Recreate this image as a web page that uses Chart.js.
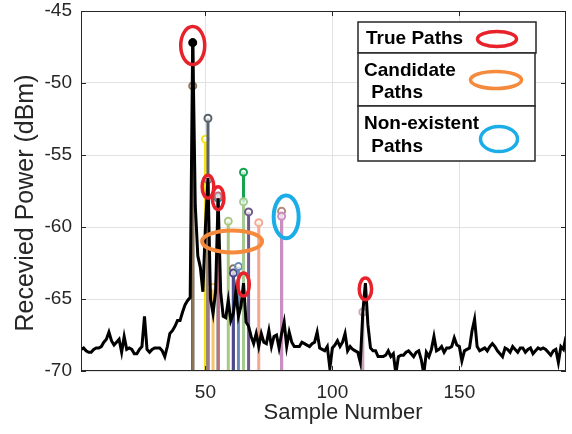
<!DOCTYPE html>
<html>
<head>
<meta charset="utf-8">
<script src="https://cdn.jsdelivr.net/npm/chart.js@4.4.0/dist/chart.umd.min.js"></script>
<style>
    html, body { margin: 0; padding: 0; background: #ffffff; }
    #wrap { width: 572px; height: 434px; }
</style>
</head>
<body>
<div id="wrap"><canvas id="pathChart" width="572" height="434"></canvas></div>
<script>
// Received power per sample (dBm), samples 1..192
const power = [
    -68.5, -68.4, -68.6, -68.7, -68.7, -68.5, -68.4, -68.4, -68.3, -68.0,
    -67.8, -67.3, -67.9, -68.2, -68.0, -67.8, -68.7, -67.6, -68.5, -68.4,
    -68.5, -68.8, -68.8, -68.5, -68.3, -66.2, -68.5, -68.7, -68.5, -68.4,
    -68.4, -68.4, -68.6, -69.0, -68.3, -67.4, -67.2, -66.9, -66.5, -66.5,
    -65.9, -65.4, -65.1, -64.9, -46.9, -58.5, -62.0, -62.8, -64.5, -60.0,
    -56.6, -65.0, -66.0, -64.5, -58.0, -64.5, -66.2, -66.3, -65.1, -66.5,
    -66.0, -64.5, -66.2, -65.5, -63.9, -66.6, -66.9, -67.6, -68.1, -67.4,
    -68.3, -67.4, -68.0, -68.1, -67.2, -68.3, -67.6, -67.5, -68.4, -67.4,
    -66.6, -68.3, -67.3, -68.0, -68.3, -68.3, -68.3, -68.0, -68.1, -68.2,
    -68.3, -68.1, -68.0, -67.3, -68.4, -68.5, -68.6, -68.3, -69.8, -68.4,
    -68.2, -67.9, -68.3, -68.0, -67.4, -68.6, -68.3, -68.5, -68.6, -68.7,
    -69.4, -65.9, -63.9, -66.8, -68.4, -68.6, -68.6, -69.0, -69.0, -69.0,
    -68.9, -68.6, -69.0, -68.8, -70.2, -69.0, -68.9, -68.9, -68.7, -68.6,
    -68.8, -69.0, -68.7, -68.6, -69.2, -70.2, -68.7, -69.0, -68.5, -67.6,
    -68.6, -68.5, -68.3, -68.7, -68.4, -68.4, -68.3, -67.7, -68.2, -68.3,
    -69.3, -68.6, -68.5, -68.4, -67.2, -66.4, -68.3, -68.6, -68.5, -68.4,
    -68.6, -68.3, -68.1, -68.3, -68.6, -68.8, -69.0, -68.4, -68.5, -68.7,
    -68.3, -68.5, -68.7, -68.4, -68.4, -68.7, -68.5, -68.4, -68.8, -68.6,
    -68.4, -68.5, -68.4, -68.5, -68.7, -68.9, -68.6, -68.5, -69.4, -68.3,
    -68.5, -67.6
];
const samples = power.map((_, i) => i + 1);

// Stem plot: detected path delays (sample) and powers (dBm)
const stemSamples = [45, 45, 50, 51, 51, 53, 55, 55, 59, 61, 61, 63, 65, 65, 67, 71, 80, 80, 112];
const stemValues = [-47.2, -50.2, -53.9, -52.45, -56.7, -64.2, -58.0, -57.85, -59.6, -62.9, -63.2, -62.75, -56.2, -58.25, -58.95, -59.7, -58.9, -59.25, -65.9];
const stemColors = ['#000000', '#8e7558', '#f3e21a', '#56626d', '#9a7a8e', '#f6c26b', '#1798a6', '#be6e7c', '#a9c983',
    '#8a7562', '#4a4b8e', '#6a8db8', '#13a452', '#a4cb94', '#6e5a8a', '#f5a78f', '#b48b7c', '#c98fc2', '#c9a6b7'];

// Ellipse annotations, centred in data units (sample, dBm)
const truePaths = [[45, -47.4], [51, -57.2], [55, -58.0], [65, -64.0], [113, -64.3]];
const candidatePaths = [[60.5, -61.0]];
const ghostPaths = [[81.8, -59.3]];

const xTicks = [50, 100, 150];
const yTicks = [-70, -65, -60, -55, -50, -45];
const X_MIN = 1, X_MAX = 192, Y_MIN = -70, Y_MAX = -45;

const FONT = "'Liberation Sans', Arial, Helvetica, sans-serif";
const AXIS_COLOR = '#262626';
const RED = '#e8222b', ORANGE = '#f58a3c', BLUE = '#1aade8';

const stemDatasets = stemSamples.map((s, i) => ({
    type: 'line',
    data: [{ x: s, y: Y_MIN }, { x: s, y: stemValues[i] }],
    borderColor: stemColors[i],
    borderWidth: 3,
    pointRadius: ctx => ctx.dataIndex === 1 ? 3.5 : 0,
    pointBorderWidth: 2,
    pointBorderColor: stemColors[i],
    pointBackgroundColor: i === 0 ? '#000000' : 'rgba(255,255,255,0.7)',
    order: stemSamples.length - i
}));

// axes box + inward tick marks + axis labels
const framePlugin = {
    id: 'frame',
    afterDatasetsDraw(chart) {
        const { ctx, chartArea: a, scales: { x, y } } = chart;
        ctx.save();
        ctx.strokeStyle = AXIS_COLOR;
        ctx.lineWidth = 1;
        ctx.strokeRect(a.left + 0.5, a.top + 0.5, a.right - a.left - 1, a.bottom - a.top - 1);
        ctx.beginPath();
        xTicks.forEach(v => {
            const px = Math.round(x.getPixelForValue(v)) + 0.5;
            ctx.moveTo(px, a.bottom); ctx.lineTo(px, a.bottom - 5);
            ctx.moveTo(px, a.top); ctx.lineTo(px, a.top + 5);
        });
        yTicks.forEach(v => {
            const py = Math.round(y.getPixelForValue(v)) + 0.5;
            ctx.moveTo(a.left, py); ctx.lineTo(a.left + 5, py);
            ctx.moveTo(a.right, py); ctx.lineTo(a.right - 5, py);
        });
        ctx.stroke();

        // axis titles (placed as in the original figure, slightly off-centre)
        ctx.fillStyle = AXIS_COLOR;
        ctx.textAlign = 'center';
        ctx.textBaseline = 'middle';
        ctx.font = '22px ' + FONT;
        ctx.fillText('Sample Number', 343, 413);
        ctx.translate(26, 203);
        ctx.rotate(-Math.PI / 2);
        ctx.font = '25px ' + FONT;
        ctx.fillText('Recevied Power (dBm)', 0, 0);
        ctx.restore();
    }
};

// hand-drawn ellipses around path groups
const ellipsePlugin = {
    id: 'ellipses',
    afterDraw(chart) {
        const { ctx, scales: { x, y } } = chart;
        const draw = (pts, rx, ry, color, lw) => {
            pts.forEach(p => {
                ctx.beginPath();
                ctx.ellipse(x.getPixelForValue(p[0]), y.getPixelForValue(p[1]), rx, ry, 0, 0, Math.PI * 2);
                ctx.strokeStyle = color;
                ctx.lineWidth = lw;
                ctx.stroke();
            });
        };
        ctx.save();
        draw(truePaths.slice(0, 1), 12, 19, RED, 3.5);
        draw(truePaths.slice(1, 4), 5.8, 11.5, RED, 3.5);
        draw(truePaths.slice(4), 6.2, 10.8, RED, 3.5);
        draw(candidatePaths, 30, 11, ORANGE, 4);
        draw(ghostPaths, 12.5, 21.3, BLUE, 4);
        ctx.restore();
    }
};

// boxed legend, top right
const legendPlugin = {
    id: 'pathLegend',
    afterDraw(chart) {
        const ctx = chart.ctx;
        ctx.save();
        ctx.fillStyle = '#ffffff';
        ctx.strokeStyle = '#262626';
        ctx.lineWidth = 1.5;
        [[358, 22, 178, 31], [358, 53, 177, 53], [358, 106, 177, 55]].forEach(b => {
            ctx.fillRect(b[0], b[1], b[2], b[3]);
            ctx.strokeRect(b[0], b[1], b[2], b[3]);
        });
        ctx.fillStyle = '#000000';
        ctx.font = 'bold 19px ' + FONT;
        ctx.textBaseline = 'alphabetic';
        ctx.fillText('True Paths', 366, 44);
        ctx.fillText('Candidate', 364, 76);
        ctx.fillText(' Paths', 366, 98);
        ctx.fillText('Non-existent', 364, 129);
        ctx.fillText(' Paths', 366, 152);
        const ring = (cx, cy, rx, ry, color) => {
            ctx.beginPath();
            ctx.ellipse(cx, cy, rx, ry, 0, 0, Math.PI * 2);
            ctx.strokeStyle = color;
            ctx.lineWidth = 3.5;
            ctx.stroke();
        };
        ring(497, 39, 19.5, 7.5, RED);
        ring(496, 80, 25.5, 8.5, ORANGE);
        ring(499, 139, 18.5, 12.5, BLUE);
        ctx.restore();
    }
};

new Chart(document.getElementById('pathChart'), {
    type: 'line',
    data: {
        datasets: [{
            label: 'Received power',
            data: samples.map((s, i) => ({ x: s, y: power[i] })),
            borderColor: '#000000',
            borderWidth: 3,
            pointRadius: 0,
            tension: 0,
            order: 0
        }, ...stemDatasets]
    },
    options: {
        responsive: false,
        devicePixelRatio: 1,
        animation: false,
        layout: { padding: { top: 11, right: 6, left: 0, bottom: 0 } },
        plugins: { legend: { display: false }, tooltip: { enabled: false } },
        scales: {
            x: {
                type: 'linear',
                min: X_MIN,
                max: X_MAX,
                afterBuildTicks: axis => { axis.ticks = xTicks.map(v => ({ value: v })); },
                afterFit: axis => { axis.height = 63; },
                grid: { color: '#e2e2e2', drawTicks: false },
                border: { display: false },
                ticks: { color: AXIS_COLOR, font: { family: FONT, size: 19 }, padding: 10, maxRotation: 0 }
            },
            y: {
                type: 'linear',
                min: Y_MIN,
                max: Y_MAX,
                afterBuildTicks: axis => { axis.ticks = yTicks.map(v => ({ value: v })); },
                afterFit: axis => {
                    axis.width = 81;
                    axis.paddingTop = 0;
                    axis.paddingBottom = 0;
                },
                grid: { color: '#e2e2e2', drawTicks: false },
                border: { display: false },
                ticks: { color: AXIS_COLOR, font: { family: FONT, size: 19 }, padding: 9 }
            }
        }
    },
    plugins: [framePlugin, ellipsePlugin, legendPlugin]
});
</script>
</body>
</html>
